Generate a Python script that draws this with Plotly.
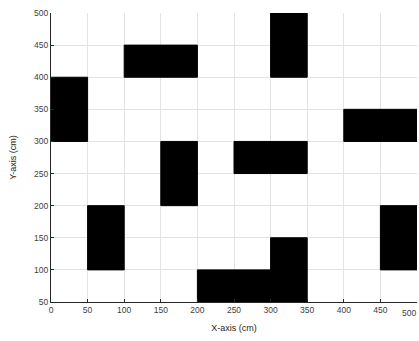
import plotly.graph_objects as go

# Obstacle rectangles in the map (cm): x0, x1, y0, y1
x0s = [0, 100, 300, 400, 150, 250, 50, 450, 200, 300]
x1s = [50, 200, 350, 500, 200, 350, 100, 500, 350, 350]
y0s = [300, 400, 400, 300, 200, 250, 100, 100, 0, 100]
y1s = [400, 450, 500, 350, 300, 300, 200, 200, 100, 150]

x_ticks = list(range(0, 501, 50))
y_ticks = list(range(50, 501, 50))

FONT = "Liberation Sans, Arial, sans-serif"

fig = go.Figure()

for a, b, c, d in zip(x0s, x1s, y0s, y1s):
    fig.add_trace(go.Scatter(
        x=[a, b, b, a, a], y=[c, c, d, d, c],
        mode="lines", fill="toself", fillcolor="black",
        line=dict(color="black", width=1),
        hoverinfo="skip", showlegend=False,
    ))

axis_common = dict(
    showgrid=True, gridcolor="#e3e3e3", gridwidth=1,
    showline=True, linecolor="#262626", linewidth=1,
    ticks="inside", ticklen=3, tickcolor="#262626",
    tickfont=dict(family=FONT, size=8.5, color="#404040"),
    zeroline=False, mirror=False,
)

fig.update_xaxes(
    range=[0, 500], tickvals=x_ticks[:-1], ticktext=[str(v) for v in x_ticks[:-1]],
    title=dict(text="X-axis (cm)", standoff=10,
               font=dict(family=FONT, size=9, color="#262626")),
    **axis_common,
)
fig.update_yaxes(
    range=[50, 500], tickvals=y_ticks, ticktext=[str(v) for v in y_ticks],
    title=dict(text="Y-axis (cm)", standoff=15,
               font=dict(family=FONT, size=9, color="#262626")),
    **axis_common,
)

# last x tick label, pulled in so it stays on the canvas
fig.add_annotation(
    x=x_ticks[-1], y=0, xref="x", yref="paper", yshift=-4, xshift=1,
    text=str(x_ticks[-1]), showarrow=False, yanchor="top", xanchor="right",
    font=dict(family=FONT, size=8.5, color="#404040"),
)

fig.update_layout(
    width=419, height=341,
    margin=dict(l=51, r=2, t=13, b=39),
    paper_bgcolor="white", plot_bgcolor="white",
)

fig.write_html("out.html")
